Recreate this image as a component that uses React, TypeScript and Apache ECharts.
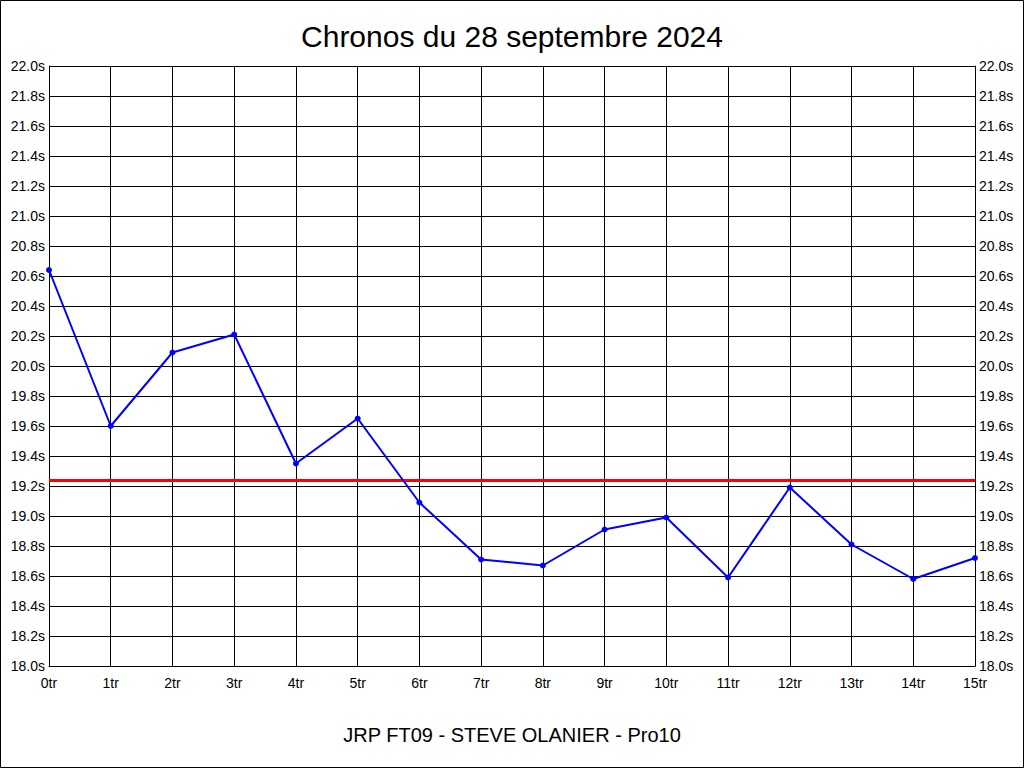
import React, { useEffect, useRef } from "react";
import * as echarts from "echarts";

const categories = ["0tr", "1tr", "2tr", "3tr", "4tr", "5tr", "6tr", "7tr", "8tr", "9tr", "10tr", "11tr", "12tr", "13tr", "14tr", "15tr"];
const times = [20.64, 19.6, 20.09, 20.21, 19.35, 19.65, 19.09, 18.71, 18.67, 18.91, 18.99, 18.59, 19.19, 18.81, 18.58, 18.72];
const averageTime = 19.24;
const yMin = 18.0;
const yMax = 22.0;
const yStep = 0.2;
const titleText = "Chronos du 28 septembre 2024";
const subtitleText = "JRP FT09 - STEVE OLANIER - Pro10";

export default function App() {
  const ref = useRef<HTMLDivElement>(null);
  useEffect(() => {
    document.body.style.margin = "0";
    const chart = echarts.init(ref.current!, null, { renderer: "svg" });
    const font = "'Liberation Sans', Arial, sans-serif";
    const yAxisCommon = {
      type: "value" as const,
      min: yMin,
      max: yMax,
      interval: yStep,
      axisLine: { show: true, lineStyle: { color: "#000", width: 1 } },
      axisTick: { show: false },
      splitLine: { show: true, lineStyle: { color: "#000", width: 1 } },
      axisLabel: {
        color: "#000",
        fontSize: 14,
        fontFamily: font,
        margin: 4,
        formatter: (v: number) => v.toFixed(1) + "s",
      },
    };
    chart.setOption({
      animation: false,
      backgroundColor: "#fff",
      title: [
        {
          text: titleText,
          left: "center",
          top: 16,
          textStyle: { fontSize: 30, fontWeight: "normal", color: "#000", fontFamily: font },
        },
        {
          text: subtitleText,
          left: "center",
          top: 720,
          textStyle: { fontSize: 20, fontWeight: "normal", color: "#000", fontFamily: font },
        },
      ],
      grid: { left: 49, right: 49, top: 66, bottom: 102, containLabel: false },
      xAxis: {
        type: "category",
        data: categories,
        boundaryGap: false,
        axisLine: { show: true, lineStyle: { color: "#000", width: 1 } },
        axisTick: { show: false },
        splitLine: { show: true, lineStyle: { color: "#000", width: 1 } },
        axisLabel: { color: "#000", fontSize: 14, fontFamily: font, margin: 10, interval: 0 },
      },
      yAxis: [
        { ...yAxisCommon, position: "left" },
        { ...yAxisCommon, position: "right" },
      ],
      graphic: [
        {
          type: "rect",
          shape: { x: 0.5, y: 0.5, width: 1023, height: 767 },
          style: { fill: "none", stroke: "#000", lineWidth: 1 },
          z: 100,
        },
      ],
      series: [
        {
          type: "line",
          data: times,
          yAxisIndex: 0,
          symbol: "circle",
          symbolSize: 6,
          lineStyle: { color: "#0000ff", width: 2 },
          itemStyle: { color: "#0000ff" },
          z: 5,
          markLine: {
            silent: true,
            symbol: "none",
            label: { show: false },
            lineStyle: { color: "#ff0000", width: 3, type: "solid" },
            data: [{ yAxis: averageTime }],
            z: 4,
          },
        },
      ],
    });
    return () => chart.dispose();
  }, []);
  return <div ref={ref} style={{ width: 1024, height: 768 }} />;
}
